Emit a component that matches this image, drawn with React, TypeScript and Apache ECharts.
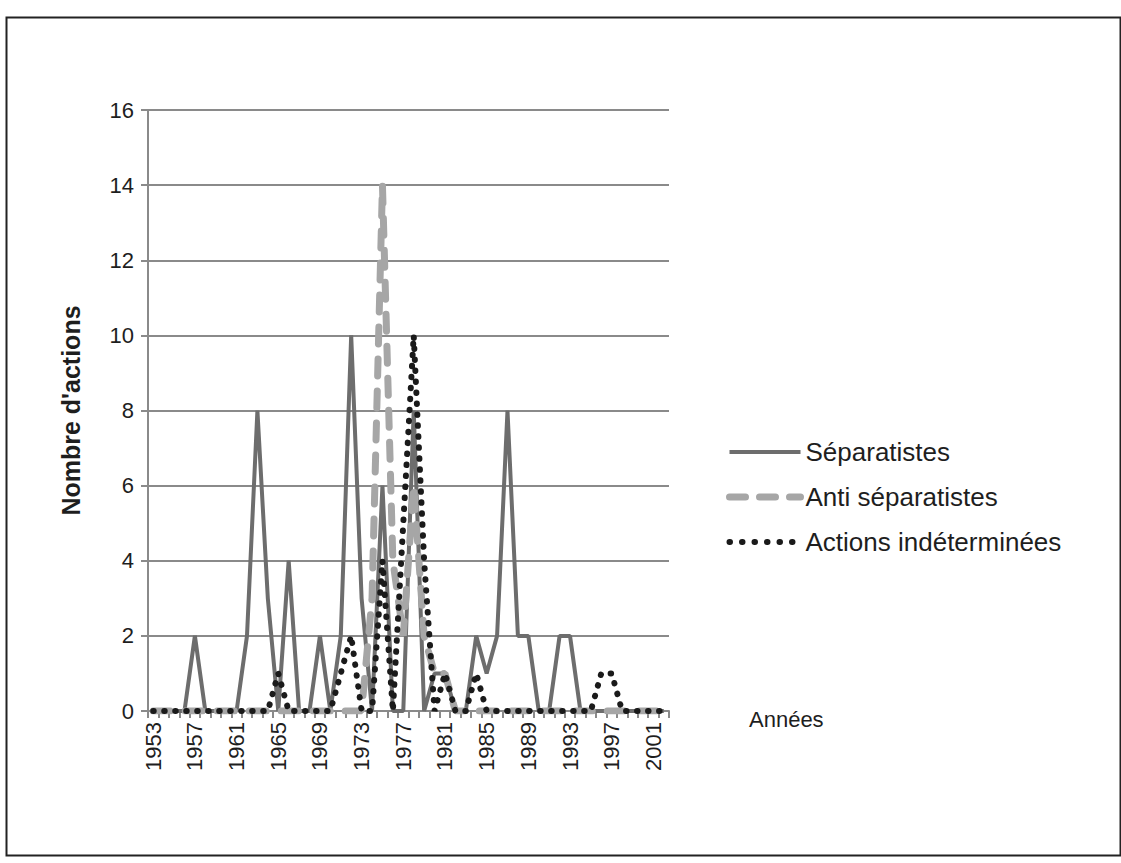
import React, { useEffect, useRef } from "react";
import * as echarts from "echarts";

const years = [
  "1953","1954","1955","1956","1957","1958","1959","1960","1961","1962",
  "1963","1964","1965","1966","1967","1968","1969","1970","1971","1972",
  "1973","1974","1975","1976","1977","1978","1979","1980","1981","1982",
  "1983","1984","1985","1986","1987","1988","1989","1990","1991","1992",
  "1993","1994","1995","1996","1997","1998","1999","2000","2001","2002",
];

const separatistes = [
  0, 0, 0, 0, 2, 0, 0, 0, 0, 2,
  8, 3, 0, 4, 0, 0, 2, 0, 2, 10,
  3, 0, 6, 0, 0, 8, 0, 1, 1, 0,
  0, 2, 1, 2, 8, 2, 2, 0, 0, 2,
  2, 0, 0, 0, 0, 0, 0, 0, 0, 0,
];

const antiSeparatistes = [
  0, 0, 0, 0, 0, 0, 0, 0, 0, 0,
  0, 0, 0, 0, 0, 0, 0, 0, 0, 0,
  0, 3, 14, 4, 2, 6, 2, 1, 1, 0,
  0, 0, 0, 0, 0, 0, 0, 0, 0, 0,
  0, 0, 0, 0, 0, 0, 0, 0, 0, 0,
];

const actionsIndeterminees = [
  0, 0, 0, 0, 0, 0, 0, 0, 0, 0,
  0, 0, 1, 0, 0, 0, 0, 0, 1, 2,
  0, 0, 4, 0, 5, 10, 4, 0, 1, 0,
  0, 1, 0, 0, 0, 0, 0, 0, 0, 0,
  0, 0, 0, 1, 1, 0, 0, 0, 0, 0,
];

const seriesNames = ["Séparatistes", "Anti séparatistes", "Actions indéterminées"];

const FONT = "Liberation Sans, Arial, sans-serif";
const TEXT = "#1e1e1e";
const GRID = "#8a8a8a";

export default function App() {
  const ref = useRef<HTMLDivElement>(null);

  useEffect(() => {
    if (!ref.current) return;
    const chart = echarts.init(ref.current, null, { renderer: "svg" });
    const sepStyle = { color: "#6d6d6d", width: 4, type: "solid" };
    const antiStyle = { color: "#a6a6a6", width: 7, type: [17, 15], cap: "round" };
    const actStyle = { color: "#1a1a1a", width: 6, type: [0.5, 10.5], cap: "round" };
    chart.setOption({
      animation: false,
      backgroundColor: "#ffffff",
      textStyle: { fontFamily: FONT },
      grid: { left: 148, top: 110, width: 521, height: 601, containLabel: false },
      legend: {
        orient: "vertical",
        left: 721,
        top: 434,
        itemWidth: 71,
        itemHeight: 26,
        itemGap: 19,
        itemStyle: { opacity: 0 },
        textStyle: { fontSize: 26, lineHeight: 26, color: TEXT, fontFamily: FONT },
        data: [
          { name: seriesNames[0], lineStyle: sepStyle },
          { name: seriesNames[1], lineStyle: { ...antiStyle, type: [16, 14] } },
          { name: seriesNames[2], lineStyle: { ...actStyle, type: [0.5, 12] } },
        ],
      },
      xAxis: {
        type: "category",
        data: years,
        boundaryGap: true,
        axisLine: { show: true, lineStyle: { color: GRID, width: 2 } },
        axisTick: { show: true, interval: 0, length: 7, lineStyle: { color: GRID, width: 2 } },
        axisLabel: {
          interval: 3,
          rotate: 90,
          fontSize: 22,
          color: TEXT,
          margin: 11,
          fontFamily: FONT,
        },
        splitLine: { show: false },
      },
      yAxis: {
        type: "value",
        min: 0,
        max: 16,
        interval: 2,
        name: "Nombre d'actions",
        nameLocation: "middle",
        nameRotate: 90,
        nameGap: 65,
        nameTextStyle: { fontSize: 25, fontWeight: "bold", color: TEXT, fontFamily: FONT },
        axisLine: { show: true, lineStyle: { color: GRID, width: 2 } },
        axisTick: { show: true, length: 7, lineStyle: { color: GRID, width: 2 } },
        axisLabel: { fontSize: 22, color: TEXT, margin: 14, fontFamily: FONT },
        splitLine: { show: true, lineStyle: { color: GRID, width: 2 } },
      },
      graphic: [
        {
          type: "rect",
          left: 4,
          top: 15,
          shape: { x: 0, y: 0, width: 1114, height: 838 },
          style: { fill: "none", stroke: "#222222", lineWidth: 2 },
          silent: true,
        },
        {
          type: "text",
          left: 749,
          top: 708,
          style: { text: "Années", fontSize: 22, fill: TEXT, fontFamily: FONT },
        },
      ],
      series: [
        {
          name: seriesNames[0],
          type: "line",
          data: separatistes,
          symbol: "none",
          lineStyle: sepStyle,
          itemStyle: { color: sepStyle.color },
          z: 2,
        },
        {
          name: seriesNames[1],
          type: "line",
          data: antiSeparatistes,
          symbol: "none",
          lineStyle: antiStyle,
          itemStyle: { color: antiStyle.color },
          z: 3,
        },
        {
          name: seriesNames[2],
          type: "line",
          data: actionsIndeterminees,
          symbol: "none",
          lineStyle: actStyle,
          itemStyle: { color: actStyle.color },
          z: 4,
        },
      ],
    });
    return () => chart.dispose();
  }, []);

  return (
    <div
      ref={ref}
      style={{ position: "fixed", left: 0, top: 0, width: 1121, height: 863, background: "#fff" }}
    />
  );
}
